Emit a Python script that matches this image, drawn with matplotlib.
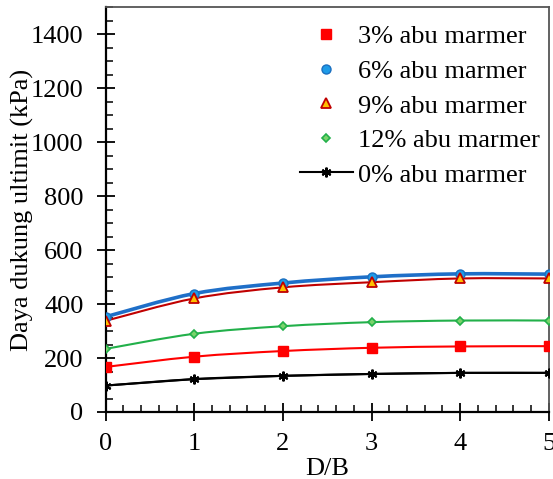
import matplotlib
matplotlib.use("Agg")
import matplotlib.pyplot as plt
from matplotlib.path import Path
from matplotlib.patches import PathPatch
from matplotlib.ticker import MultipleLocator

plt.rcParams['font.family'] = ['Liberation Serif', 'DejaVu Serif']
plt.rcParams['mathtext.fontset'] = 'stix'

db = [0, 1, 2, 3, 4, 5]
s0 = [98, 122, 134, 141, 145, 145]
s3 = [167, 205, 226, 238, 243, 244]
s6 = [353, 439, 478, 501, 512, 511]
s9 = [338, 421, 462, 481, 495, 495]
s12 = [234, 290, 318, 333, 339, 339]

labels = ['3% abu marmer', '6% abu marmer', '9% abu marmer', '12% abu marmer', '0% abu marmer']

fig = plt.figure(figsize=(5.53, 4.79), dpi=100)
ax = fig.add_axes([105.7/553, 1-412/479, (548.7-105.7)/553, (412-7.3)/479])


def smooth(ax, x, y, color, lw, z):
    n = len(x)
    verts = [(x[0], y[0])]
    codes = [Path.MOVETO]
    for i in range(n - 1):
        xm, ym = (x[i-1], y[i-1]) if i > 0 else (x[i], y[i])
        xp, yp = (x[i+2], y[i+2]) if i + 2 < n else (x[i+1], y[i+1])
        c1 = (x[i] + (x[i+1] - xm) / 6, y[i] + (y[i+1] - ym) / 6)
        c2 = (x[i+1] - (xp - x[i]) / 6, y[i+1] - (yp - y[i]) / 6)
        verts += [c1, c2, (x[i+1], y[i+1])]
        codes += [Path.CURVE4] * 3
    p = PathPatch(Path(verts, codes), facecolor='none', edgecolor=color,
                  lw=lw, transform=ax.transData, zorder=z, capstyle='round')
    ax.add_patch(p)


smooth(ax, db, s0, 'black', 1.5, 2)
smooth(ax, db, s3, '#ff0000', 1.5, 2)
smooth(ax, db, s12, '#22b04a', 1.5, 2)
smooth(ax, db, s9, '#c00000', 1.5, 2)
smooth(ax, db, s6, '#1f6fc8', 2.6, 2.5)

h3, = ax.plot(db, s3, ls='none', marker='s', ms=6.5, mfc='#ff0000', mec='#ff0000', zorder=4)
h6, = ax.plot(db, s6, ls='none', marker='o', ms=6.5, mfc='#1e9be8', mec='#1a6fc0', mew=1, zorder=4)
h9, = ax.plot(db, s9, ls='none', marker='^', ms=6.5, mfc='#ffc000', mec='#c00000', mew=1.3, zorder=4)
h12, = ax.plot(db, s12, ls='none', marker='D', ms=4.5, mfc='#7ad36b', mec='#22b04a', mew=1.2, zorder=4)
h0, = ax.plot(db, s0, ls='-', lw=1.5, color='black', marker=(6, 2, 0), ms=7, mew=1.5, zorder=4)

ax.set_xlim(0, 5)
ax.set_ylim(0, 1500)
ax.xaxis.set_major_locator(MultipleLocator(1))
ax.xaxis.set_minor_locator(MultipleLocator(0.2))
ax.yaxis.set_major_locator(MultipleLocator(200))
ax.yaxis.set_minor_locator(MultipleLocator(50))
ax.set_yticks(range(0, 1401, 200))

ax.tick_params(which='major', direction='inout', length=13, width=1.3, labelsize=19, color='black')
ax.tick_params(axis='y', which='major', pad=9.5)
ax.tick_params(axis='x', which='major', pad=8.5)
ax.tick_params(which='minor', direction='in', length=5, width=1.1, color='black')

ax.spines['left'].set_linewidth(1.6)
ax.spines['bottom'].set_linewidth(1.6)
ax.spines['top'].set_color('#555555')
ax.spines['right'].set_color('#555555')
ax.spines['top'].set_linewidth(1.3)
ax.spines['right'].set_linewidth(1.3)

ax.set_xlabel('D/B', fontsize=19, labelpad=2)
ax.set_ylabel('Daya dukung ultimit (kPa)', fontsize=19, labelpad=-2)

leg = ax.legend([h3, h6, h9, h12, h0], labels, loc='upper left',
                bbox_to_anchor=(300/553, 1-25/479), bbox_transform=fig.transFigure,
                frameon=False, fontsize=19, handlelength=2.0, handletextpad=0.2,
                borderpad=0, borderaxespad=0, labelspacing=0.42, numpoints=1)

fig.savefig('out.png', dpi=100)
